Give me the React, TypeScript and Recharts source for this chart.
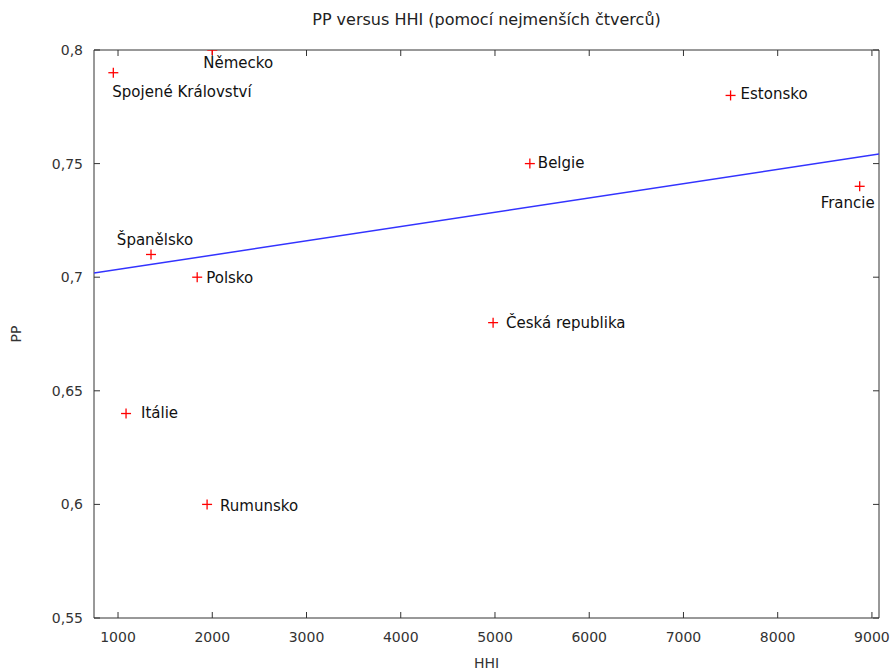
import React from 'react';
import {
  ScatterChart,
  Scatter,
  XAxis,
  YAxis,
  Label,
} from 'recharts';

const countries = [
  'Spojené Království',
  'Německo',
  'Estonsko',
  'Belgie',
  'Francie',
  'Španělsko',
  'Polsko',
  'Česká republika',
  'Itálie',
  'Rumunsko',
];
const hhiValues = [950, 2000, 7500, 5370, 8870, 1350, 1840, 4980, 1085, 1945];
const ppValues = [0.79, 0.8, 0.78, 0.75, 0.74, 0.71, 0.7, 0.68, 0.64, 0.6];

// least-squares fit, drawn across the x range
const fitHhi = [745, 9075];
const fitPp = [0.7018, 0.7542];

const xTicks = [1000, 2000, 3000, 4000, 5000, 6000, 7000, 8000, 9000];
const yTicks = [0.55, 0.6, 0.65, 0.7, 0.75, 0.8];

const FONT = '"DejaVu Sans", Verdana, sans-serif';

// where each name sits relative to its marker
const labelSpots: Record<string, { dx: number; dy: number; anchor: string }> = {
  'Spojené Království': { dx: -1, dy: 19, anchor: 'start' },
  'Německo': { dx: -9, dy: 13, anchor: 'start' },
  'Estonsko': { dx: 10, dy: -1, anchor: 'start' },
  'Belgie': { dx: 8, dy: -1, anchor: 'start' },
  'Francie': { dx: 15, dy: 17, anchor: 'end' },
  'Španělsko': { dx: 4, dy: -14, anchor: 'middle' },
  'Polsko': { dx: 9, dy: 1, anchor: 'start' },
  'Česká republika': { dx: 13, dy: 0, anchor: 'start' },
  'Itálie': { dx: 15, dy: -1, anchor: 'start' },
  'Rumunsko': { dx: 13, dy: 2, anchor: 'start' },
};

const points = countries.map((name, i) => ({ name, x: hhiValues[i], y: ppValues[i] }));
const fitData = fitHhi.map((x, i) => ({ x, y: fitPp[i] }));

const PlusPoint = (props: any) => {
  const { cx, cy, payload } = props;
  const spot = labelSpots[payload.name] || { dx: 8, dy: 0, anchor: 'start' };
  return (
    <g>
      <line x1={cx - 5} y1={cy} x2={cx + 5} y2={cy} stroke="#ff0000" strokeWidth={1.3} />
      <line x1={cx} y1={cy - 5} x2={cx} y2={cy + 5} stroke="#ff0000" strokeWidth={1.3} />
      <text
        x={cx + spot.dx}
        y={cy + spot.dy}
        textAnchor={spot.anchor as any}
        dominantBaseline="central"
        fontFamily={FONT}
        fontSize={15}
        fill="#111"
      >
        {payload.name}
      </text>
    </g>
  );
};

const formatPP = (v: number) => String(v).replace('.', ',');
const blank = () => '';

export default function App() {
  const tickStyle = { fontFamily: FONT, fontSize: 14, fill: '#333' };
  const lineStyle = { stroke: '#333', strokeWidth: 1 };
  return (
    <div style={{ position: 'relative', width: 893, height: 671, background: '#fff', fontFamily: FONT }}>
      <style>{'body{margin:0}'}</style>
      <div
        style={{
          position: 'absolute',
          left: 94,
          width: 785,
          top: 10,
          textAlign: 'center',
          fontSize: 16,
          color: '#222',
        }}
      >
        PP versus HHI (pomocí nejmenších čtverců)
      </div>
      <ScatterChart width={893} height={671} margin={{ top: 49, right: 13, bottom: 0, left: 0 }}>
        <XAxis
          type="number"
          dataKey="x"
          domain={[745, 9075]}
          allowDataOverflow
          ticks={xTicks}
          height={53}
          tickSize={-6}
          tickMargin={20}
          tick={tickStyle}
          axisLine={lineStyle}
          tickLine={lineStyle}
        >
          <Label
            content={(p: any) => {
              const vb = p.viewBox;
              return (
                <text x={vb.x + vb.width / 2} y={663} textAnchor="middle" dominantBaseline="central" fontFamily={FONT} fontSize={14} fill="#333">
                  HHI
                </text>
              );
            }}
          />
        </XAxis>
        <XAxis
          xAxisId="top"
          orientation="top"
          type="number"
          dataKey="x"
          domain={[745, 9075]}
          allowDataOverflow
          ticks={xTicks}
          height={1}
          tickSize={-6}
          tickFormatter={blank}
          axisLine={lineStyle}
          tickLine={lineStyle}
        />
        <YAxis
          type="number"
          dataKey="y"
          domain={[0.55, 0.8]}
          allowDataOverflow
          ticks={yTicks}
          width={94}
          tickSize={-6}
          tickMargin={17}
          tick={tickStyle}
          tickFormatter={formatPP}
          axisLine={lineStyle}
          tickLine={lineStyle}
        >
          <Label
            content={(p: any) => {
              const vb = p.viewBox;
              const cy = vb.y + vb.height / 2;
              return (
                <text x={16} y={cy} textAnchor="middle" dominantBaseline="central" transform={`rotate(-90, 16, ${cy})`} fontFamily={FONT} fontSize={14} fill="#333">
                  PP
                </text>
              );
            }}
          />
        </YAxis>
        <YAxis
          yAxisId="right"
          orientation="right"
          type="number"
          dataKey="y"
          domain={[0.55, 0.8]}
          allowDataOverflow
          ticks={yTicks}
          width={1}
          tickSize={-6}
          tickFormatter={blank}
          axisLine={lineStyle}
          tickLine={lineStyle}
        />
        <Scatter
          data={fitData}
          line={{ stroke: '#3333ff', strokeWidth: 1.5 }}
          shape={() => <g />}
          isAnimationActive={false}
        />
        {/* invisible copy bound to the mirror axes so they get drawn */}
        <Scatter
          xAxisId="top"
          yAxisId="right"
          data={fitData}
          shape={() => <g />}
          isAnimationActive={false}
        />
        <Scatter data={points} shape={PlusPoint} isAnimationActive={false} />
      </ScatterChart>
    </div>
  );
}
